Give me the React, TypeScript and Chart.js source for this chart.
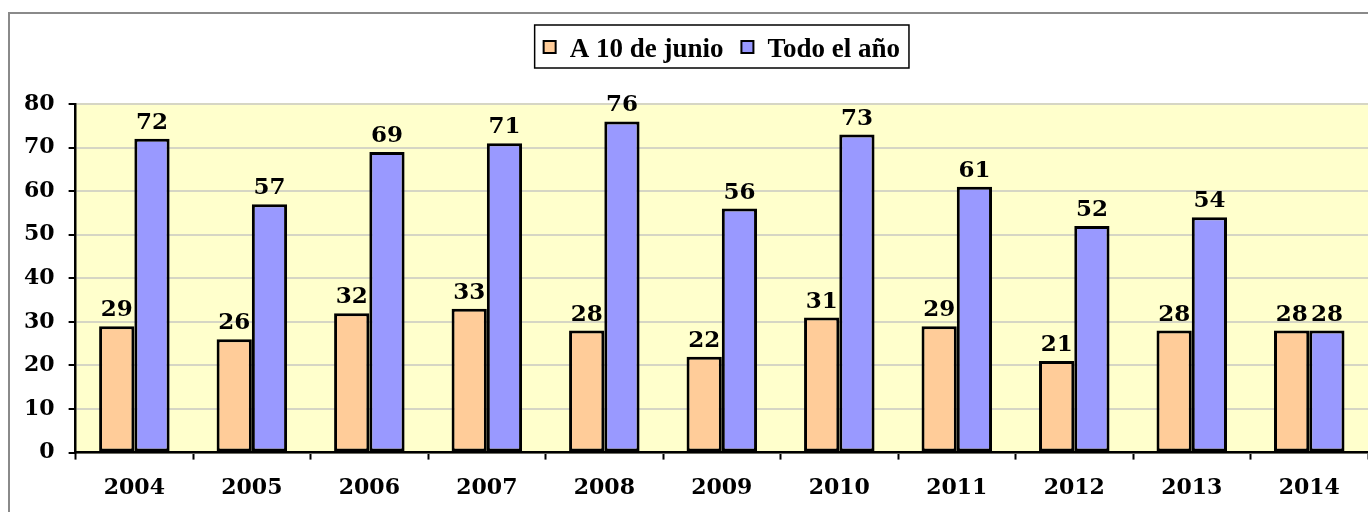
import React, { useEffect, useRef } from "react";
import { Chart, registerables } from "chart.js";

Chart.register(...registerables);

const categories = ["2004", "2005", "2006", "2007", "2008", "2009", "2010", "2011", "2012", "2013", "2014"];
const junioValues = [29, 26, 32, 33, 28, 22, 31, 29, 21, 28, 28];
const anioValues = [72, 57, 69, 71, 76, 56, 73, 61, 52, 54, 28];
const seriesNames = ["A 10 de junio", "Todo el año"];
const seriesColors = ["#FFCC99", "#9999FF"];
const yTicks = [0, 10, 20, 30, 40, 50, 60, 70, 80];

const SERIF = "'DejaVu Serif', 'Liberation Serif', serif";
const LEGEND_FONT = "bold 27px 'Liberation Serif', serif";

const framePlugin = {
  id: "frame",
  beforeDraw(chart: any) {
    const { ctx, chartArea } = chart;
    ctx.save();
    ctx.fillStyle = "#ffffff";
    ctx.fillRect(0, 0, chart.width, chart.height);
    ctx.strokeStyle = "#8a8a8a";
    ctx.lineWidth = 2;
    ctx.strokeRect(9, 13, chart.width + 20, chart.height + 20);
    ctx.fillStyle = "#FFFFCC";
    ctx.fillRect(chartArea.left, chartArea.top, chartArea.right - chartArea.left, chartArea.bottom - chartArea.top);
    ctx.restore();
  },
  afterDraw(chart: any) {
    const { ctx, chartArea } = chart;
    const sw = 12;
    const gapText = 14;
    const gapItem = 18;
    const padX = 9;
    ctx.save();
    ctx.font = LEGEND_FONT;
    const widths = seriesNames.map((n) => ctx.measureText(n).width);
    const inner = widths.reduce((a, w) => a + sw + gapText + w, 0) + gapItem * (seriesNames.length - 1);
    const center = (chartArea.left + chartArea.right) / 2;
    const boxLeft = center - inner / 2 - padX;
    const boxW = inner + padX * 2;
    ctx.strokeStyle = "#000000";
    ctx.lineWidth = 1.5;
    ctx.strokeRect(boxLeft, 25, boxW, 43);
    let x = boxLeft + padX;
    seriesNames.forEach((n, i) => {
      ctx.fillStyle = seriesColors[i];
      ctx.fillRect(x, 41, sw, sw);
      ctx.strokeStyle = "#000000";
      ctx.lineWidth = 2;
      ctx.strokeRect(x, 41, sw, sw);
      x += sw + gapText;
      ctx.fillStyle = "#000000";
      ctx.textAlign = "left";
      ctx.textBaseline = "alphabetic";
      ctx.fillText(n, x, 57);
      x += widths[i] + gapItem;
    });
    ctx.restore();
  },
};

const labelPlugin = {
  id: "valueLabels",
  afterDatasetsDraw(chart: any) {
    const { ctx } = chart;
    ctx.save();
    ctx.font = `bold 23px ${SERIF}`;
    ctx.fillStyle = "#000000";
    ctx.textAlign = "center";
    ctx.textBaseline = "alphabetic";
    chart.data.datasets.forEach((ds: any, i: number) => {
      const meta = chart.getDatasetMeta(i);
      meta.data.forEach((el: any, j: number) => {
        ctx.fillText(String(ds.data[j]), el.x, el.y - 10);
      });
    });
    ctx.restore();
  },
};

export default function App() {
  const ref = useRef<HTMLCanvasElement | null>(null);

  useEffect(() => {
    if (!ref.current) return;
    const chart = new Chart(ref.current, {
      type: "bar",
      data: {
        labels: categories,
        datasets: seriesNames.map((name, i) => ({
          label: name,
          data: i === 0 ? junioValues : anioValues,
          backgroundColor: seriesColors[i],
          borderColor: "#000000",
          borderWidth: 3,
          borderSkipped: false,
          categoryPercentage: 0.6,
          barPercentage: 1.0,
        })),
      },
      options: {
        animation: false,
        responsive: false,
        maintainAspectRatio: false,
        layout: { padding: { top: 104, left: 10, right: -3, bottom: -4 } },
        plugins: {
          tooltip: { enabled: false },
          legend: { display: false },
        },
        scales: {
          x: {
            offset: true,
            grid: {
              offset: true,
              drawOnChartArea: false,
              drawTicks: true,
              tickLength: 7,
              tickColor: "#000000",
              tickWidth: 2,
            },
            border: { display: true, color: "#000000", width: 2.5 },
            ticks: {
              color: "#000000",
              padding: 15,
              maxRotation: 0,
              font: { family: SERIF, size: 22, weight: "bold" },
            },
          },
          y: {
            min: 0,
            max: 80,
            afterBuildTicks: (axis: any) => {
              axis.ticks = yTicks.map((v) => ({ value: v }));
            },
            grid: {
              color: "#D6D6C4",
              lineWidth: 2,
              drawTicks: true,
              tickLength: 7,
              tickColor: "#000000",
              tickWidth: 2,
            },
            border: { display: true, color: "#000000", width: 2.5 },
            ticks: {
              color: "#000000",
              padding: 14,
              font: { family: SERIF, size: 22, weight: "bold" },
            },
          },
        },
      },
      plugins: [framePlugin, labelPlugin],
    });
    return () => chart.destroy();
  }, []);

  return (
    <div style={{ position: "fixed", left: 0, top: 0, width: 1368, height: 512 }}>
      <canvas ref={ref} width={1368} height={512} style={{ width: 1368, height: 512, display: "block" }} />
    </div>
  );
}
